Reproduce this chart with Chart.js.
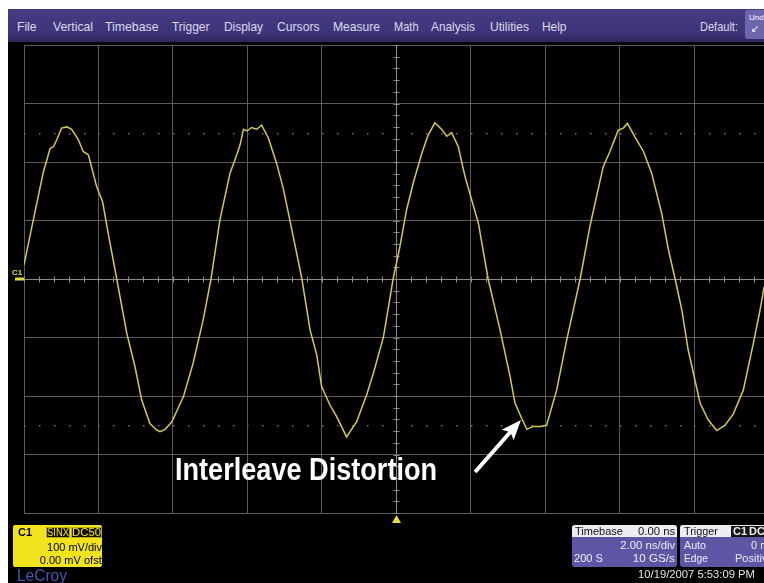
<!DOCTYPE html>
<html>
<head>
<meta charset="utf-8">
<script src="https://cdn.jsdelivr.net/npm/chart.js@4.4.1/dist/chart.umd.min.js"></script>
<style>
html, body { margin: 0; padding: 0; background: #000; width: 764px; height: 583px; overflow: hidden; }
body { font-family: "Liberation Sans Narrow", "Liberation Sans", Arial, sans-serif; }
#wrap { position: relative; width: 764px; height: 583px; background: #000; overflow: hidden; }
#scope { position: absolute; left: 0; top: 0; }
.t { position: absolute; white-space: nowrap; line-height: 1; transform-origin: left center; }
.r { transform-origin: right center; text-align: right; }
#topWhite { position: absolute; left: 0; top: 0; width: 764px; height: 9px; background: #fff; }
#leftWhite { position: absolute; left: 0; top: 0; width: 8px; height: 583px; background: #fff; }
#menubar { position: absolute; left: 8px; top: 9px; width: 756px; height: 33px; background: linear-gradient(#463c84, #3d3378 75%, #2c245c); }
.menu { font-size: 13px; color: #dcdaee; top: 20px; }
#undo { position: absolute; left: 745px; top: 10px; width: 22px; height: 29px; background: #6d66ac; border-radius: 3px; }
.box { position: absolute; border-radius: 3px; overflow: hidden; }
.hdr { position: absolute; left: 0; top: 0; right: 0; height: 12px; background: #ececf3; }
.small { font-size: 11px; }
#annot { font-size: 32px; font-weight: bold; color: #fff; left: 175px; top: 453px; }
</style>
</head>
<body>
<div id="wrap">
  <canvas id="scope" width="764" height="583"></canvas>

  <div id="topWhite"></div>
  <div id="leftWhite"></div>
  <div id="menubar"></div>
  <span class="t menu" style="left:17px" data-w="19.5">File</span>
  <span class="t menu" style="left:53px" data-w="40">Vertical</span>
  <span class="t menu" style="left:105px" data-w="53.5">Timebase</span>
  <span class="t menu" style="left:172px" data-w="37.5">Trigger</span>
  <span class="t menu" style="left:224px" data-w="39">Display</span>
  <span class="t menu" style="left:277px" data-w="42.5">Cursors</span>
  <span class="t menu" style="left:333px" data-w="47">Measure</span>
  <span class="t menu" style="left:394px" data-w="24.5">Math</span>
  <span class="t menu" style="left:431px" data-w="44">Analysis</span>
  <span class="t menu" style="left:490px" data-w="39">Utilities</span>
  <span class="t menu" style="left:542px" data-w="24.5">Help</span>
  <span class="t menu" style="left:700px" data-w="38">Default:</span>
  <div id="undo"></div>
  <span class="t" style="left:749px;top:14px;font-size:8px;color:#fff">Und</span>
  <span class="t" style="left:751px;top:24px;font-size:10px;color:#fff;font-family:'DejaVu Sans'">&#8601;</span>

  <!-- channel marker label -->
  <span class="t" style="left:12px;top:269px;font-size:8px;font-weight:bold;color:#e6dc3c">C1</span>

  <!-- annotation -->
  <span id="annot" class="t" data-w="262">Interleave Distortion</span>

  <!-- C1 descriptor box -->
  <div class="box" style="left:13px;top:525px;width:89px;height:42px;background:#f1e41c;border-radius:2px"></div>
  <span class="t small" style="left:18px;top:527px;font-weight:bold;color:#000">C1</span>
  <span class="t" style="left:46px;top:527px;width:24px;height:11px;background:#111;border:1px solid #b9ad10;box-sizing:border-box"></span>
  <span class="t" style="left:71px;top:527px;width:31px;height:11px;background:#111;border:1px solid #b9ad10;box-sizing:border-box"></span>
  <span class="t" style="left:47px;top:528px;font-size:10px;color:#f1e41c" data-w="22">SINX</span>
  <span class="t" style="left:72px;top:528px;font-size:10px;color:#f1e41c" data-w="29">DC50</span>
  <span class="t small r" style="right:662px;top:542px;color:#000" data-w="55">100 mV/div</span>
  <span class="t small r" style="right:662px;top:555px;color:#000" data-w="62">0.00 mV ofst</span>
  <span class="t" style="left:17px;top:568px;font-size:16px;color:#4659b3" data-w="50">LeCroy</span>

  <!-- Timebase box -->
  <div class="box" style="left:572px;top:525px;width:105px;height:42px;background:#5d56a4"><div class="hdr"></div></div>
  <span class="t small" style="left:575px;top:526px;color:#111" data-w="48">Timebase</span>
  <span class="t small r" style="right:89px;top:526px;color:#111" data-w="37">0.00 ns</span>
  <span class="t small r" style="right:89px;top:540px;color:#eeeef8" data-w="55">2.00 ns/div</span>
  <span class="t small" style="left:574px;top:553px;color:#eeeef8" data-w="29">200 S</span>
  <span class="t small r" style="right:89px;top:553px;color:#eeeef8" data-w="42">10 GS/s</span>

  <!-- Trigger box (runs off the right edge) -->
  <div class="box" style="left:680px;top:525px;width:95px;height:42px;background:#5d56a4"><div class="hdr"></div></div>
  <span class="t small" style="left:684px;top:526px;color:#111" data-w="34">Trigger</span>
  <span class="t" style="left:731px;top:526px;width:40px;height:11px;background:#151515"></span>
  <span class="t small" style="left:733px;top:526px;color:#eee;font-weight:bold">C1</span>
  <span class="t small" style="left:749px;top:526px;color:#eee;font-weight:bold">DC</span>
  <span class="t small" style="left:684px;top:540px;color:#eeeef8" data-w="22">Auto</span>
  <span class="t small" style="left:751px;top:540px;color:#eeeef8">0 mV</span>
  <span class="t small" style="left:735px;top:553px;color:#eeeef8">Positive</span>
  <span class="t small" style="left:684px;top:553px;color:#eeeef8" data-w="24">Edge</span>

  <span class="t small" style="left:638px;top:569px;color:#e4e4e4" data-w="117">10/19/2007 5:53:09 PM</span>
</div>

<script>
// Waveform: time in ns (2 ns/div), amplitude in mV (100 mV/div)
const timeNs = [
  -10.00, -9.75, -9.48, -9.30, -9.21, -9.12, -8.99, -8.85, -8.72, -8.54, -8.41, -8.27, -8.05, -7.89,
  -7.74, -7.51, -7.24, -7.02, -6.84, -6.62, -6.44, -6.35, -6.21, -6.03, -5.72, -5.46, -5.19, -4.98,
  -4.74, -4.47, -4.34, -4.20, -4.11, -4.01, -3.89, -3.75, -3.62, -3.44, -3.22, -3.04, -2.77, -2.54,
  -2.32, -2.14, -2.01, -1.79, -1.61, -1.34, -1.07, -0.80, -0.62, -0.35, -0.09, 0.09, 0.27,
  0.45, 0.68, 0.85, 1.03, 1.21, 1.35, 1.48, 1.66, 1.84, 2.02, 2.20, 2.46, 2.78, 3.05, 3.18, 3.36,
  3.50, 3.67, 3.85, 4.03, 4.30, 4.57, 4.93, 5.19,
  5.37, 5.55, 5.73, 5.95, 6.09, 6.20, 6.40, 6.63, 6.85, 7.12, 7.30, 7.48, 7.66, 7.83, 8.15, 8.37,
  8.60, 8.82, 9.04, 9.31, 9.58, 9.76, 9.87, 10.00
];
const traceMv = [
  24, 101, 183, 223, 226, 238, 258, 260, 256, 238, 218, 212, 158, 132,
  78, 0, -93, -150, -207, -247, -258, -261, -257, -244, -201, -144, -70, 0,
  101, 181, 203, 229, 256, 253, 259, 256, 263, 241, 198, 155, 72, 0,
  -87, -130, -184, -215, -235, -270, -244, -198, -161, -99, 0, 55, 118,
  164, 215, 246, 267, 256, 244, 250, 226, 175, 135, 95, 0, -87, -167, -212, -238,
  -257, -252, -252, -250, -190, -104, 0, 89,
  141, 192, 218, 254, 258, 266, 243, 218, 181, 112, 50, 0, -53, -121, -212, -241,
  -259, -250, -231, -190, -110, -53, -13, 20
];

// screen: 10 x 2 ns, 8 x 100 mV (right edge cropped)
const xMin = -10, xMax = 9.866, xDiv = 2;
const yMin = -400, yMax = 400, yDiv = 100;
const dotRowsMv = [250, -250];
// arrow pointing at the distorted trough (data units)
const arrowTail = { x: 2.11, y: -330 };
const arrowTip = { x: 3.34, y: -241 };

const traceColor = '#d4ca4c';

const scopeDecor = {
  id: 'scopeDecor',
  beforeDatasetsDraw(chart) {
    const c = chart.ctx, xs = chart.scales.x, ys = chart.scales.y;
    const x0 = Math.round(xs.getPixelForValue(0)) + 0.5;
    const y0 = Math.round(ys.getPixelForValue(0)) + 0.5;
    c.save();
    // minor ticks on the centre lines
    c.strokeStyle = '#8a8a8a';
    c.lineWidth = 1;
    c.beginPath();
    for (let v = xMin; v <= xMax + 1e-6; v += xDiv / 5) {
      const px = Math.round(xs.getPixelForValue(v)) + 0.5;
      c.moveTo(px, y0 - 3); c.lineTo(px, y0 + 3);
    }
    for (let v = yMin; v <= yMax + 1e-6; v += yDiv / 5) {
      const py = Math.round(ys.getPixelForValue(v)) + 0.5;
      c.moveTo(x0 - 3, py); c.lineTo(x0 + 3, py);
    }
    c.stroke();
    // dotted rows
    c.fillStyle = '#707070';
    dotRowsMv.forEach(mv => {
      const py = Math.round(ys.getPixelForValue(mv));
      for (let v = xMin; v <= xMax + 1e-6; v += xDiv / 5) {
        const px = Math.round(xs.getPixelForValue(v));
        c.fillRect(px, py, 1.5, 1.5);
      }
    });
    c.restore();
  },
  afterDraw(chart) {
    const c = chart.ctx, xs = chart.scales.x, ys = chart.scales.y, a = chart.chartArea;
    c.save();
    // channel offset marker
    const y0 = ys.getPixelForValue(0);
    c.fillStyle = '#e6dc3c';
    c.fillRect(a.left - 9, y0 - 1.5, 9, 3);
    // trigger position triangle under the grid
    const xt = xs.getPixelForValue(0);
    c.beginPath();
    c.moveTo(xt, a.bottom + 2);
    c.lineTo(xt - 4.5, a.bottom + 10);
    c.lineTo(xt + 4.5, a.bottom + 10);
    c.closePath();
    c.fill();
    // white arrow
    const tx = xs.getPixelForValue(arrowTail.x), ty = ys.getPixelForValue(arrowTail.y);
    const hx = xs.getPixelForValue(arrowTip.x), hy = ys.getPixelForValue(arrowTip.y);
    const ang = Math.atan2(hy - ty, hx - tx);
    const len = Math.hypot(hx - tx, hy - ty);
    c.translate(tx, ty);
    c.rotate(ang);
    c.fillStyle = '#fff';
    c.beginPath();
    c.moveTo(0, -2);
    c.lineTo(len - 17, -2);
    c.lineTo(len - 20, -8);
    c.lineTo(len, 0);
    c.lineTo(len - 20, 8);
    c.lineTo(len - 17, 2);
    c.lineTo(0, 2);
    c.closePath();
    c.fill();
    c.restore();
  }
};

const ctx = document.getElementById('scope').getContext('2d');
const points = timeNs.map((t, i) => ({ x: t, y: traceMv[i] }));

const scopeChart = new Chart(ctx, {
  type: 'line',
  data: {
    datasets: [{
      data: points,
      borderColor: traceColor,
      borderWidth: 1.5,
      pointRadius: 0,
      tension: 0,
      fill: false
    }]
  },
  options: {
    responsive: false,
    animation: false,
    events: [],
    layout: { padding: { left: 24, top: 45, right: 0, bottom: 70 } },
    plugins: { legend: { display: false }, tooltip: { enabled: false } },
    scales: {
      x: {
        type: 'linear', min: xMin, max: xMax,
        ticks: { display: false, stepSize: xDiv, includeBounds: false },
        grid: { drawTicks: false, color: c => c.tick && c.tick.value === 0 ? '#8c8c8c' : '#5c5c5c' },
        border: { display: false }
      },
      y: {
        type: 'linear', min: yMin, max: yMax,
        ticks: { display: false, stepSize: yDiv },
        grid: { drawTicks: false, color: c => c.tick && c.tick.value === 0 ? '#8c8c8c' : '#5c5c5c' },
        border: { display: false }
      }
    }
  },
  plugins: [scopeDecor]
});

// squeeze/stretch labels to the widths measured on the screenshot
document.querySelectorAll('[data-w]').forEach(el => {
  const w = el.getBoundingClientRect().width;
  if (w > 0) el.style.transform = `scaleX(${(+el.dataset.w / w).toFixed(3)})`;
});
</script>
</body>
</html>
